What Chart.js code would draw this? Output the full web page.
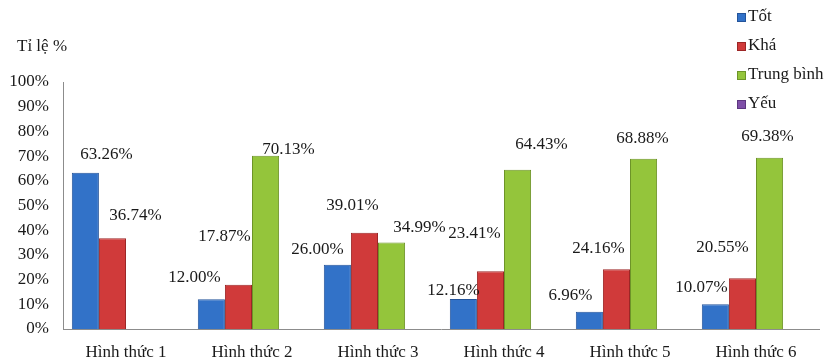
<!DOCTYPE html>
<html>
<head>
<meta charset="utf-8">
<script src="https://cdn.jsdelivr.net/npm/chart.js@4.4.0/dist/chart.umd.min.js"></script>
<style>
  body { margin: 0; background: #fff; }
  #wrap { width: 827px; height: 362px; }
</style>
</head>
<body>
<div id="wrap"><canvas id="chart" width="827" height="362"></canvas></div>
<script>
const categories = ['Hình thức 1', 'Hình thức 2', 'Hình thức 3', 'Hình thức 4', 'Hình thức 5', 'Hình thức 6'];
const seriesNames = ['Tốt', 'Khá', 'Trung bình', 'Yếu'];
const tot = [63.26, 12.00, 26.00, 12.16, 6.96, 10.07];
const kha = [36.74, 17.87, 39.01, 23.41, 24.16, 20.55];
const trungBinh = [null, 70.13, 34.99, 64.43, 68.88, 69.38];
const yeu = [null, null, null, null, null, null];
const yTicks = [0, 10, 20, 30, 40, 50, 60, 70, 80, 90, 100];

const colors = ['#3272c8', '#d03a3a', '#94c53b', '#7f4fa8'];
const borders = ['#24549a', '#9c2626', '#6d9428', '#5d3680'];

// where each value label sits, relative to the top of its bar (dx, dy in px)
const labelOffsets = [
    [[21, -18], [-17, -22], [-20, -15], [-10, -8], [-19, -16], [-14, -17]],
    [[23, -23], [-14, -48], [-12, -27], [-16, -38], [-18, -21], [-20, -31]],
    [[0, 0], [23, -6], [28, -15], [24, -25], [-1, -20], [-2, -21]],
    [[0, 0], [0, 0], [0, 0], [0, 0], [0, 0], [0, 0]]
];

const FONT = '"Liberation Serif", "Times New Roman", serif';

const labelsPlugin = {
    id: 'valueLabels',
    afterDatasetsDraw(chart) {
        const ctx = chart.ctx;
        ctx.save();
        ctx.font = '17px ' + FONT;
        ctx.fillStyle = '#1a1a1a';
        ctx.textAlign = 'center';
        ctx.textBaseline = 'middle';
        chart.data.datasets.forEach((ds, i) => {
            const meta = chart.getDatasetMeta(i);
            meta.data.forEach((bar, j) => {
                const v = ds.data[j];
                if (v === null || v === undefined) return;
                const off = labelOffsets[i][j];
                ctx.fillText(v.toFixed(2) + '%', bar.x + off[0], bar.y + off[1]);
            });
        });
        ctx.restore();
    }
};

const extrasPlugin = {
    id: 'extras',
    afterDraw(chart) {
        const ctx = chart.ctx;
        const area = chart.chartArea;
        ctx.save();
        ctx.font = '17px ' + FONT;
        ctx.fillStyle = '#1a1a1a';
        ctx.textBaseline = 'middle';
        ctx.textAlign = 'left';
        // axis title
        ctx.fillText('Tỉ lệ %', 17, area.top - 35);
        // legend
        chart.data.datasets.forEach((ds, i) => {
            const y = 17 + i * 29;
            ctx.fillStyle = ds.backgroundColor;
            ctx.fillRect(737, y - 4, 9, 9);
            ctx.strokeStyle = ds.borderColor;
            ctx.lineWidth = 1;
            ctx.strokeRect(737.5, y - 3.5, 8, 8);
            ctx.fillStyle = '#1a1a1a';
            ctx.fillText(ds.label, 748, y);
        });
        ctx.restore();
    }
};

const seriesData = [tot, kha, trungBinh, yeu];

new Chart(document.getElementById('chart').getContext('2d'), {
    type: 'bar',
    data: {
        labels: categories,
        datasets: seriesData.map((d, i) => ({
            label: seriesNames[i],
            data: d,
            backgroundColor: colors[i],
            borderColor: borders[i],
            borderWidth: 1,
            categoryPercentage: 0.86,
            barPercentage: 1
        }))
    },
    options: {
        responsive: false,
        animation: false,
        layout: { padding: { top: 82, right: 8, left: 0, bottom: 0 } },
        plugins: {
            legend: { display: false },
            tooltip: { enabled: false }
        },
        scales: {
            x: {
                grid: { display: false },
                border: { display: true, color: '#8c8c8c' },
                ticks: { color: '#1a1a1a', padding: 5, font: { family: FONT, size: 17 } },
                afterFit(scale) { scale.height = 33; }
            },
            y: {
                min: 0,
                max: 100,
                afterBuildTicks(scale) { scale.ticks = yTicks.map(v => ({ value: v })); },
                grid: { display: false },
                border: { display: true, color: '#8c8c8c' },
                ticks: {
                    color: '#1a1a1a',
                    padding: 6,
                    font: { family: FONT, size: 17 },
                    callback: v => v + '%'
                },
                afterFit(scale) { scale.width = 63; }
            }
        }
    },
    plugins: [labelsPlugin, extrasPlugin]
});
</script>
</body>
</html>
